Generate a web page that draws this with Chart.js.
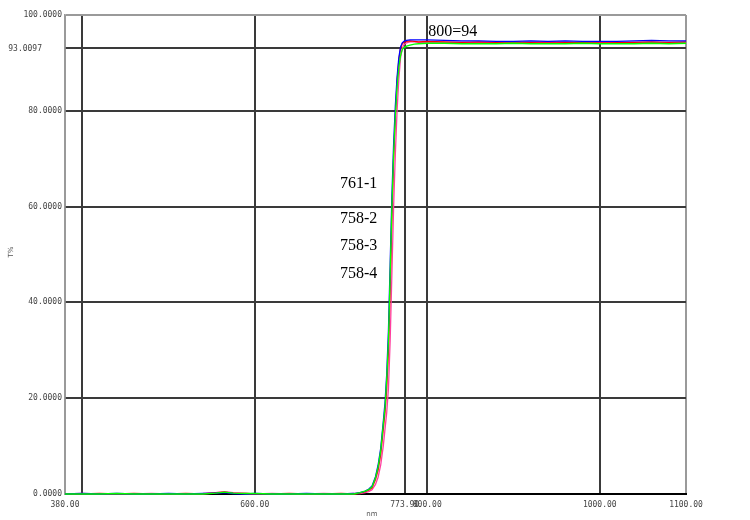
<!DOCTYPE html>
<html>
<head>
<meta charset="utf-8">
<script src="https://cdn.jsdelivr.net/npm/chart.js@4.4.1/dist/chart.umd.min.js"></script>
<style>
html,body{margin:0;padding:0;background:#fff;}
#wrap{width:750px;height:520px;position:relative;}
</style>
</head>
<body>
<div id="wrap"><canvas id="c"></canvas></div>
<script>
// Wavelengths (nm)
const wavelengths = [380,400,420,440,460,480,500,520,540,555,565,575,590,600,620,640,660,680,700,715,
  722,728,732,736,740,743,746,749,751,753,755,757,759,761,763,765,767,769,771,773,776,780,785,790,800,
  820,840,860,880,900,920,940,960,980,1000,1020,1040,1060,1080,1100];

const seriesNames = ["761-1","758-2","758-3","758-4"];

const blueT = [0,0.1,0,0.1,0,0,0.1,0,0.1,0.2,0.3,0.1,0,0.1,0,0,0.1,0,0,0.1,
  0.3,0.6,1.0,1.7,3.6,6,9.5,15,19,25,34,48,62,73,81,87,91,93.3,94.2,94.5,94.7,94.8,94.8,94.8,94.8,
  94.7,94.6,94.6,94.5,94.5,94.6,94.5,94.6,94.5,94.5,94.5,94.6,94.7,94.6,94.6];
const redT = [0,0,0.1,0,0.1,0,0,0.1,0,0.3,0.4,0.2,0.1,0,0,0.1,0,0,0.1,0,
  0.2,0.5,0.8,1.3,3,5,8.2,13.5,17,22,30,43,58,70,79,86,90.5,93,94,94.3,94.5,94.6,94.5,94.4,94.5,
  94.4,94.3,94.4,94.3,94.4,94.3,94.4,94.3,94.3,94.4,94.3,94.3,94.4,94.3,94.4];
const pinkT = [0,0.1,0,0,0,0.1,0,0,0.1,0.3,0.5,0.3,0.1,0,0.1,0,0,0.1,0,0.1,
  0.1,0.3,0.5,0.9,2,3.5,6,10,13.5,17,22,32,46,60,71,80,86.5,91,93,93.8,94.2,94.4,94.4,94.3,94.3,
  94.3,94.3,94.2,94.3,94.3,94.2,94.3,94.2,94.3,94.3,94.2,94.3,94.3,94.2,94.3];
const greenT = [0,0,0,0.1,0,0,0,0,0,0.2,0.4,0.2,0.1,0.1,0,0,0,0,0,0,
  0.3,0.6,0.9,1.5,3.4,5.6,9,14.5,18,24,32,46,60,71,79,85,89,91.5,92.8,93.2,93.5,93.7,93.9,94.0,94.1,
  94.1,94.0,94.0,94.0,94.1,94.0,94.0,94.0,94.1,94.0,94.0,94.0,94.1,94.0,94.1];

const xTicks = [380,400,600,773.9,800,1000,1100];
const xTickLabels = ["380.00","","600.00","773.90","800.00","1000.00","1100.00"];
const yTicks = [0,20,40,60,80,93.0097,100];
const yTickLabels = ["0.0000","20.0000","40.0000","60.0000","80.0000","","100.0000"];
const markerY = 93.0097;
const markerYLabel = "93.0097";
const markerNote = "800=94";

function pts(arr){ return wavelengths.map((w,i)=>({x:w,y:arr[i]})); }

const textPlugin = {
  id:'texts',
  afterDraw(chart){
    const ctx = chart.ctx, xs = chart.scales.x, ys = chart.scales.y;
    ctx.save();
    ctx.font = '8px "DejaVu Sans Mono"';
    ctx.fillStyle = '#444';
    ctx.textAlign = 'right'; ctx.textBaseline = 'middle';
    ctx.fillText(markerYLabel, 42, ys.getPixelForValue(markerY));
    ctx.font = '16px "Liberation Serif"';
    ctx.fillStyle = '#000';
    ctx.textAlign = 'left';
    ctx.fillText(markerNote, xs.getPixelForValue(800)+1, 32);
    const ys2 = [184,219,246,274];
    seriesNames.forEach((n,i)=>{ ctx.fillText(n, 340, ys2[i]); });
    ctx.font = '7px "DejaVu Sans"';
    ctx.fillStyle = '#555';
    ctx.textAlign = 'center';
    ctx.fillText('nm', 372, 514);
    ctx.save();
    ctx.translate(11, 252);
    ctx.rotate(-Math.PI/2);
    ctx.fillText('T%', 0, 0);
    ctx.restore();
    ctx.restore();
  }
};

const gridColor = (v, edgeVals) => edgeVals.includes(v) ? '#9a9a9a' : '#3a3a3a';

new Chart(document.getElementById('c'), {
  type:'line',
  data:{
    datasets:[
      {label:seriesNames[3], data:pts(greenT), borderColor:'#00ff00'},
      {label:seriesNames[0], data:pts(blueT), borderColor:'#0000ff'},
      {label:seriesNames[1], data:pts(redT), borderColor:'#ff0000'},
      {label:seriesNames[2], data:pts(pinkT), borderColor:'#ff3fa0'}
    ].map(d=>Object.assign(d,{borderWidth:1.3,pointRadius:0,tension:0,fill:false,clip:3}))
  },
  options:{
    responsive:true, maintainAspectRatio:false, animation:false,
    layout:{padding:{left:0,right:64,top:15,bottom:0}},
    plugins:{legend:{display:false},tooltip:{enabled:false}},
    scales:{
      x:{
        type:'linear', min:380, max:1100,
        afterBuildTicks(s){ s.ticks = xTicks.map(v=>({value:v})); },
        afterFit(s){ s.height = 26; },
        border:{display:true,color:'#000',width:2},
        grid:{
          drawTicks:false,
          color:(c)=> c.tick ? gridColor(c.tick.value,[380,1100]) : '#3a3a3a',
          lineWidth:2
        },
        ticks:{
          padding:6, autoSkip:false, maxRotation:0, color:'#444',
          font:{family:'"DejaVu Sans Mono"', size:8},
          callback:(v,i)=> xTickLabels[i]
        }
      },
      y:{
        type:'linear', min:0, max:100,
        afterBuildTicks(s){ s.ticks = yTicks.map(v=>({value:v})); },
        afterFit(s){ s.width = 65; },
        border:{display:true,color:'#9a9a9a',width:1.5},
        grid:{
          drawTicks:false,
          color:(c)=> c.tick ? gridColor(c.tick.value,[100]) : '#3a3a3a',
          lineWidth:2
        },
        ticks:{
          padding:3, autoSkip:false, color:'#444',
          font:{family:'"DejaVu Sans Mono"', size:8},
          callback:(v,i)=> yTickLabels[i]
        }
      }
    }
  },
  plugins:[textPlugin]
});
</script>
</body>
</html>
